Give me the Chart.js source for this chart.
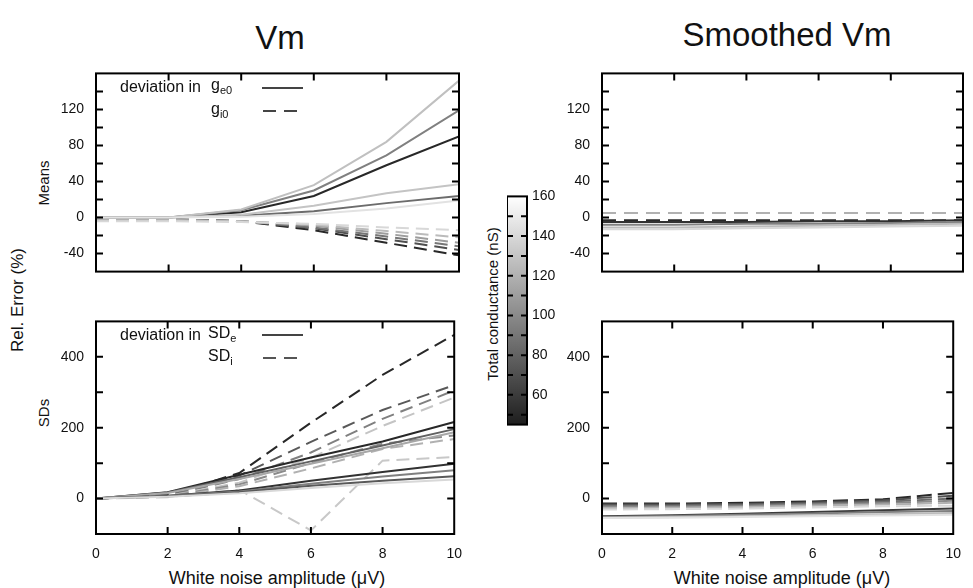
<!DOCTYPE html>
<html>
<head>
<meta charset="utf-8">
<script src="https://cdn.jsdelivr.net/npm/chart.js@4.4.1/dist/chart.umd.min.js"></script>
<style>
  body { margin: 0; width: 973px; height: 588px; background: #fff; position: relative; overflow: hidden;
         font-family: "Liberation Sans", Arial, sans-serif; color: #111; }
  canvas { position: absolute; }
  .t { position: absolute; white-space: nowrap; transform: translate(-50%, -50%); line-height: 1; }
  .rot { transform: translate(-50%, -50%) rotate(-90deg); }
  .leg { position: absolute; white-space: nowrap; font-size: 16px; line-height: 1; transform: translateY(-50%); }
  .leg sub { font-size: 11px; vertical-align: -4px; }
  svg { position: absolute; overflow: visible; }
</style>
</head>
<body>

<div class="t" style="left:280px; top:37px; font-size:33px;">Vm</div>
<div class="t" style="left:787px; top:34px; font-size:33px;">Smoothed Vm</div>
<div class="t rot" style="left:17px; top:300px; font-size:17px;">Rel. Error (%)</div>
<div class="t rot" style="left:43px; top:183px; font-size:15px;">Means</div>
<div class="t rot" style="left:43px; top:413px; font-size:15px;">SDs</div>
<div class="t" style="left:277px; top:578px; font-size:18px;">White noise amplitude (μV)</div>
<div class="t" style="left:782px; top:578px; font-size:18px;">White noise amplitude (μV)</div>
<div class="t rot" style="left:492px; top:304px; font-size:15px;">Total conductance (nS)</div>

<canvas id="meansVm"></canvas>
<canvas id="sdsVm"></canvas>
<canvas id="meansSm"></canvas>
<canvas id="sdsSm"></canvas>
<canvas id="cbar"></canvas>

<!-- legends -->
<div class="leg" style="left:120px; top:87px;">deviation in</div>
<div class="leg" style="left:211px; top:86px;">g<sub>e0</sub></div>
<div class="leg" style="left:211px; top:110px;">g<sub>i0</sub></div>
<svg style="left:0; top:0;" width="1" height="1">
  <line x1="262" y1="88" x2="303" y2="88" stroke="#444" stroke-width="2"/>
  <line x1="263" y1="111" x2="298" y2="111" stroke="#444" stroke-width="2" stroke-dasharray="13 8"/>
  <line x1="262" y1="335" x2="303" y2="335" stroke="#444" stroke-width="2"/>
  <line x1="263" y1="358" x2="298" y2="358" stroke="#555" stroke-width="2" stroke-dasharray="13 8"/>
</svg>
<div class="leg" style="left:120px; top:335px;">deviation in</div>
<div class="leg" style="left:208px; top:334px;">SD<sub>e</sub></div>
<div class="leg" style="left:208px; top:357px;">SD<sub>i</sub></div>

<script>
// white noise amplitude (uV)
const noise = [0, 2, 4, 6, 8, 10];

// Vm, means: deviation in ge0 (solid) and gi0 (dashed); one conductance per line
const meansGeCond = [145, 130, 85, 128, 95, 50];
const meansGe = [
  [0, 0, 1, 4, 10, 19],
  [0, 0, 3, 13, 27, 37],
  [0, 0, 2, 7, 16, 24],
  [0, 0, 9, 36, 84, 152],
  [0, 0, 8, 30, 69, 119],
  [0, 0, 6, 24, 58, 90]
];
const meansGiCond = [140, 125, 110, 90, 70, 50];
const meansGi = [
  [-4, -4, -5, -7, -11, -14],
  [-3, -3, -4, -8, -15, -22],
  [-3, -3, -4, -9, -18, -28],
  [-2, -3, -4, -11, -21, -32],
  [-2, -2, -4, -12, -24, -36],
  [-2, -2, -4, -14, -28, -42]
];

// Vm, SDs
const sdsGeCond = [140, 75, 95, 55, 115, 80, 50];
const sdsGe = [
  [0, 5, 15, 30, 43, 54],
  [0, 6, 18, 36, 50, 63],
  [0, 7, 20, 42, 62, 80],
  [0, 8, 23, 50, 75, 98],
  [0, 16, 55, 98, 142, 187],
  [0, 17, 60, 105, 150, 196],
  [0, 18, 67, 116, 161, 216]
];
const sdsGiCond = [132, 120, 100, 130, 95, 75, 50];
const sdsGi = [
  [0, 4, 25, -90, 107, 117],
  [0, 5, 35, 85, 140, 168],
  [0, 6, 40, 100, 155, 178],
  [0, 7, 45, 115, 205, 285],
  [0, 8, 55, 130, 225, 305],
  [0, 9, 65, 160, 250, 320],
  [0, 10, 72, 214, 349, 462]
];

// Smoothed Vm, means
const smMeansGeCond = [140, 125, 95, 55];
const smMeansGe = [
  [-13, -13, -12, -11, -10, -9],
  [-11, -11, -10, -9, -8, -7],
  [-8, -8, -7, -7, -6, -5],
  [-5, -5, -5, -4, -4, -3]
];
const smMeansGiCond = [120, 50];
const smMeansGi = [
  [5, 5, 5, 5, 5, 5],
  [-3, -3, -3, -3, -3, -3]
];

// Smoothed Vm, SDs
const smSdsGeCond = [145, 125, 95, 60];
const smSdsGe = [
  [-55, -54, -52, -50, -48, -46],
  [-54, -52, -50, -47, -44, -41],
  [-52, -49, -46, -42, -38, -35],
  [-50, -47, -43, -38, -33, -28]
];
const smSdsGiCond = [140, 120, 100, 85, 70, 50];
const smSdsGi = [
  [-31, -30, -28, -25, -22, -20],
  [-27, -26, -24, -20, -17, -12],
  [-23, -23, -21, -17, -13, -6],
  [-20, -20, -18, -14, -9, 0],
  [-17, -17, -15, -11, -5, 8],
  [-14, -14, -12, -8, -2, 16]
];

// colour bar: total conductance (nS)
const cbMin = 45;
const cbMax = 160;
const cbTicks = [50, 60, 70, 80, 90, 100, 110, 120, 130, 140, 150, 160];

// grey level for a total conductance, same map as the colour bar
function grey(c) {
  const g = Math.round(30 + (c - cbMin) / (cbMax - cbMin) * 225);
  return `rgb(${g},${g},${g})`;
}

const tickFont = { family: '"Liberation Sans", Arial, sans-serif', size: 14 };

// black frame with inward ticks, like the original plotting program
const framePlugin = {
  id: 'frame',
  afterDatasetsDraw(chart) {
    const { ctx, chartArea: a, scales } = chart;
    const tl = 7;
    ctx.save();
    ctx.strokeStyle = '#000';
    ctx.lineWidth = 2;
    ctx.beginPath();
    scales.y.ticks.forEach(t => {
      const py = scales.y.getPixelForValue(t.value);
      if (py <= a.top + 1 || py >= a.bottom - 1) return;
      ctx.moveTo(a.left, py); ctx.lineTo(a.left + tl, py);
      ctx.moveTo(a.right, py); ctx.lineTo(a.right - tl, py);
    });
    scales.x.ticks.forEach(t => {
      const px = scales.x.getPixelForValue(t.value);
      if (px <= a.left + 1 || px >= a.right - 1) return;
      ctx.moveTo(px, a.top); ctx.lineTo(px, a.top + tl);
      ctx.moveTo(px, a.bottom); ctx.lineTo(px, a.bottom - tl);
    });
    ctx.stroke();
    ctx.strokeRect(a.left, a.top, a.width, a.height);
    ctx.restore();
  }
};

function series(rows, conds, dash) {
  return rows.map((r, i) => ({
    data: r.map((v, j) => ({ x: noise[j], y: v })),
    borderColor: grey(conds[i]),
    borderWidth: 2,
    borderDash: dash,
    pointRadius: 0,
    tension: 0,
    fill: false
  }));
}

function panel(id, pos, ds, yMin, yMax, yStep, labelEvery, showX) {
  const cv = document.getElementById(id);
  cv.width = pos.w; cv.height = pos.h;
  cv.style.left = pos.left + 'px'; cv.style.top = pos.top + 'px';
  cv.style.width = pos.w + 'px'; cv.style.height = pos.h + 'px';
  return new Chart(cv, {
    type: 'line',
    data: { datasets: ds },
    options: {
      responsive: false,
      devicePixelRatio: 1,
      animation: false,
      layout: { padding: { top: 10, right: pos.padR, left: 0, bottom: showX ? 0 : 5 } },
      plugins: { legend: { display: false }, tooltip: { enabled: false } },
      scales: {
        x: {
          type: 'linear', min: 0, max: 10,
          ticks: { stepSize: 2, display: showX, padding: 12, font: tickFont, color: '#111', maxRotation: 0 },
          grid: { display: false, drawTicks: false },
          border: { display: false },
          afterFit: s => { s.height = showX ? 30 : 0; }
        },
        y: {
          min: yMin, max: yMax,
          ticks: {
            stepSize: yStep, padding: 12, font: tickFont, color: '#111',
            callback: v => (v % labelEvery === 0 && v !== yMax && v !== yMin) ? v : ''
          },
          grid: { display: false, drawTicks: false },
          border: { display: false },
          afterFit: s => { s.width = 60; }
        }
      }
    },
    plugins: [framePlugin]
  });
}

panel('meansVm', { left: 36, top: 53, w: 438, h: 239, padR: 15 },
  series(meansGe, meansGeCond, []).concat(series(meansGi, meansGiCond, [13, 7])),
  -60, 160, 20, 40, false);

panel('sdsVm', { left: 36, top: 301, w: 438, h: 263, padR: 15 },
  series(sdsGe, sdsGeCond, []).concat(series(sdsGi, sdsGiCond, [13, 7])),
  -100, 500, 100, 200, true);

panel('meansSm', { left: 542, top: 53, w: 431, h: 239, padR: 10 },
  series(smMeansGe, smMeansGeCond, []).concat(series(smMeansGi, smMeansGiCond, [14, 8])),
  -60, 160, 20, 40, false);

panel('sdsSm', { left: 542, top: 301, w: 431, h: 263, padR: 10 },
  series(smSdsGe, smSdsGeCond, []).concat(series(smSdsGi, smSdsGiCond, [15, 6])),
  -100, 500, 100, 200, true);

// colour bar
const cbCanvas = document.getElementById('cbar');
cbCanvas.width = 60; cbCanvas.height = 255;
cbCanvas.style.left = '507px'; cbCanvas.style.top = '183px';
cbCanvas.style.width = '60px'; cbCanvas.style.height = '255px';

const cbPlugin = {
  id: 'cbframe',
  afterDatasetsDraw(chart) {
    const { ctx, chartArea: a, scales: { y } } = chart;
    ctx.save();
    ctx.strokeStyle = '#000';
    ctx.lineWidth = 2;
    ctx.beginPath();
    cbTicks.forEach(v => {
      if (v >= cbMax) return;
      const py = y.getPixelForValue(v);
      ctx.moveTo(a.left, py); ctx.lineTo(a.left + 6, py);
      ctx.moveTo(a.right, py); ctx.lineTo(a.right - 6, py);
    });
    ctx.stroke();
    ctx.strokeRect(a.left, a.top, a.width, a.height);
    ctx.restore();
  }
};

new Chart(cbCanvas, {
  type: 'bar',
  data: {
    labels: [''],
    datasets: [{
      data: [[cbMin, cbMax]],
      barPercentage: 1,
      categoryPercentage: 1,
      borderWidth: 0,
      backgroundColor: c => {
        const area = c.chart.chartArea;
        if (!area) return '#888';
        const g = c.chart.ctx.createLinearGradient(0, area.bottom, 0, area.top);
        g.addColorStop(0, grey(cbMin));
        g.addColorStop(0.5, grey((cbMin + cbMax) / 2));
        g.addColorStop(1, grey(cbMax));
        return g;
      }
    }]
  },
  options: {
    responsive: false,
    devicePixelRatio: 1,
    animation: false,
    layout: { padding: { top: 10, bottom: 10, left: 0, right: 0 } },
    plugins: { legend: { display: false }, tooltip: { enabled: false } },
    scales: {
      x: { display: false },
      y: {
        position: 'right', min: cbMin, max: cbMax,
        afterBuildTicks: s => { s.ticks = cbTicks.map(v => ({ value: v })); },
        ticks: { padding: 5, font: tickFont, color: '#111', callback: v => (v % 20 === 0 ? v : '') },
        grid: { display: false, drawTicks: false },
        border: { display: false },
        afterFit: s => { s.width = 40; }
      }
    }
  },
  plugins: [cbPlugin]
});
</script>
</body>
</html>
